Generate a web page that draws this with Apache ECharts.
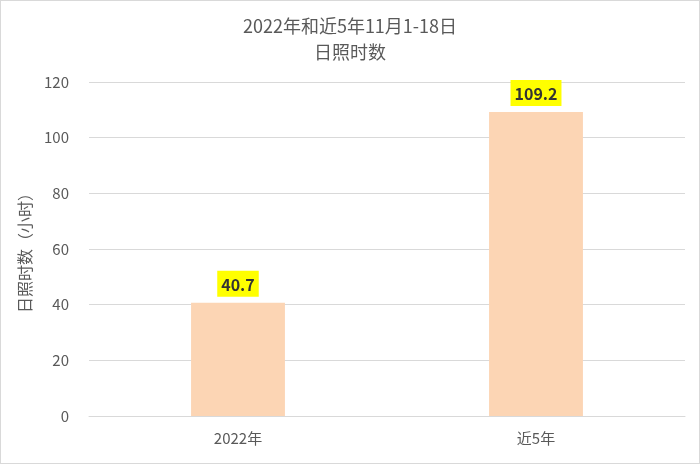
<!DOCTYPE html>
<html>
<head>
<meta charset="utf-8">
<script src="https://cdn.jsdelivr.net/npm/echarts@6/dist/echarts.min.js"></script>
<style>
  html, body { margin: 0; padding: 0; background: #fff; }
  #main { width: 698px; height: 462px; border: 1px solid #d9d9d9; }
</style>
</head>
<body>
<div id="main"></div>
<script>
// 类别
const categories = ['2022年', '近5年']
// 日照时数（小时）
const sunHours = [40.7, 109.2]
// y轴刻度
const yTicks = [0, 20, 40, 60, 80, 100, 120]

const myChart = echarts.init(document.querySelector('#main'))
const font = '"Microsoft YaHei", "Noto Sans CJK SC", sans-serif'
const option = {
    textStyle: { fontFamily: font },
    title: {
        text: '2022年和近5年11月1-18日\n日照时数',
        left: 'center',
        top: 7,
        textStyle: {
            fontSize: 18,
            fontWeight: 'normal',
            color: '#595959',
            lineHeight: 26,
            fontFamily: font
        }
    },
    grid: {
        left: 88,
        right: 14,
        top: 81,
        bottom: 47
    },
    xAxis: {
        type: 'category',
        data: categories,
        axisTick: { show: false },
        axisLine: { lineStyle: { color: '#d9d9d9' } },
        axisLabel: { color: '#595959', fontSize: 15, margin: 15 }
    },
    yAxis: {
        type: 'value',
        min: yTicks[0],
        max: yTicks[yTicks.length - 1],
        interval: 20,
        name: '日照时数（小时）',
        nameLocation: 'middle',
        nameGap: 54,
        nameTextStyle: { color: '#595959', fontSize: 16 },
        axisLabel: { color: '#595959', fontSize: 15, margin: 20 },
        splitLine: { lineStyle: { color: '#d9d9d9' } }
    },
    series: [
        {
            type: 'bar',
            data: sunHours,
            barWidth: '31.5%',
            itemStyle: { color: '#fcd5b4' },
            label: {
                show: true,
                position: 'top',
                distance: 6,
                formatter: p => p.value.toFixed(1),
                backgroundColor: '#ffff00',
                padding: [6, 4, 4, 4],
                color: '#333',
                fontWeight: 'bold',
                fontSize: 16
            }
        }
    ]
}
myChart.setOption(option)
</script>
</body>
</html>
